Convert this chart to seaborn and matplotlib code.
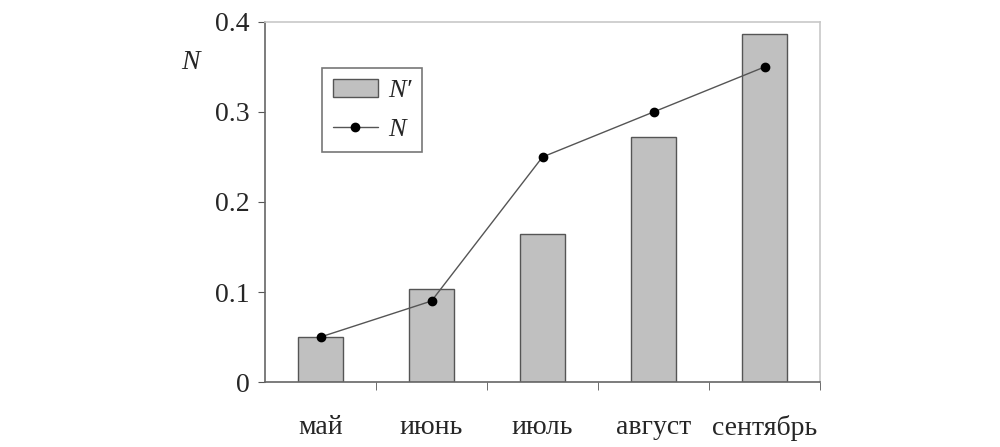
import matplotlib
matplotlib.use("Agg")
import matplotlib.pyplot as plt
import seaborn as sns
import pandas as pd
from matplotlib.lines import Line2D
from matplotlib.patches import Patch

# данные по месяцам
months = ["май", "июнь", "июль", "август", "сентябрь"]
n_prime = [0.050, 0.103, 0.164, 0.272, 0.387]   # столбцы N'
n_vals = [0.050, 0.090, 0.250, 0.300, 0.350]    # линия N
y_ticks = [0, 0.1, 0.2, 0.3, 0.4]
y_labels = ["0", "0.1", "0.2", "0.3", "0.4"]

df = pd.DataFrame({"month": months, "N'": n_prime, "N": n_vals})

sns.set_style("white")
plt.rcParams["font.family"] = ["Liberation Serif", "DejaVu Serif"]

fig = plt.figure(figsize=(10, 4.47), dpi=100)
ax = fig.add_axes([0.265, 0.1454, 0.555, 0.8054])

sns.barplot(data=df, x="month", y="N'", color="#c0c0c0", saturation=1,
            width=0.4, edgecolor="#555555", linewidth=1, ax=ax)
ax.plot(range(len(months)), df["N"], color="#555555", linewidth=1,
        marker="o", markersize=6, markerfacecolor="black",
        markeredgecolor="black")

ax.set_xlim(-0.5, 4.5)
ax.set_ylim(0, 0.4)
ax.set_yticks(y_ticks)
ax.set_yticklabels(y_labels)
ax.set_xlabel("")
ax.set_ylabel("")

# подписи месяцев без рисок, риски между категориями
ax.tick_params(axis="x", which="major", length=0, pad=24, labelsize=20)
ax.set_xticks([i + 0.5 for i in range(len(months))], minor=True)
ax.tick_params(axis="x", which="minor", length=6, direction="out",
               color="#555555", bottom=True)
ax.tick_params(axis="y", length=5, direction="out", color="#555555",
               left=True, labelsize=20, pad=6)

for side in ["left", "bottom"]:
    ax.spines[side].set_color("#666666")
    ax.spines[side].set_linewidth(1.2)
for side in ["top", "right"]:
    ax.spines[side].set_color("#c8c8c8")
    ax.spines[side].set_linewidth(1.2)

fig.text(0.19, 0.86, "N", fontsize=20, style="italic", ha="center", va="center")

handles = [Patch(facecolor="#c0c0c0", edgecolor="#555555", label="N′"),
           Line2D([0], [0], color="#555555", linewidth=1, marker="o",
                  markersize=6, markerfacecolor="black",
                  markeredgecolor="black", label="N")]
leg = ax.legend(handles=handles, loc="upper left", bbox_to_anchor=(0.103, 0.872),
                prop={"size": 19, "style": "italic"}, frameon=True,
                fancybox=False, handlelength=1.7, handletextpad=0.4,
                borderpad=0.4, labelspacing=0.6, borderaxespad=0)
leg.get_frame().set_edgecolor("#555555")
leg.get_frame().set_linewidth(1.2)

fig.savefig("out.png", dpi=100)
